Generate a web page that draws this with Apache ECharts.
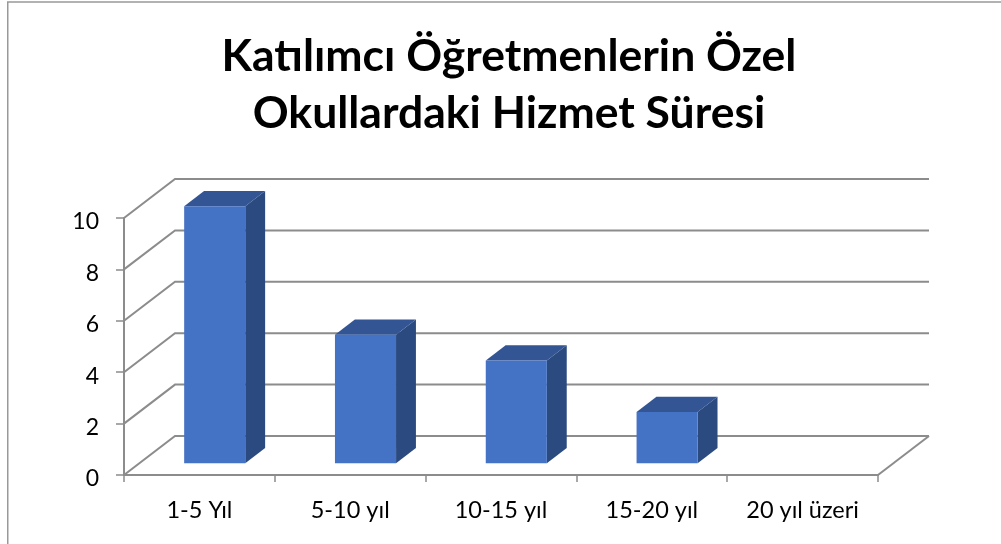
<!DOCTYPE html>
<html lang="en">

<head>
    <meta charset="UTF-8">
    <title>Katılımcı Öğretmenlerin Özel Okullardaki Hizmet Süresi</title>
    <style>
        html, body { margin: 0; padding: 0; background: #fff; }
    </style>
</head>

<body>
    <div id="main" style="width: 1001px;height:544px"></div>

    <script src="https://cdn.jsdelivr.net/npm/echarts@6/dist/echarts.min.js"></script>
    <script>
        const titleLines = ['Katılımcı Öğretmenlerin Özel', 'Okullardaki Hizmet Süresi'];
        const categories = ['1-5 Yıl', '5-10 yıl', '10-15 yıl', '15-20 yıl', '20 yıl üzeri'];
        const values = [10, 5, 4, 2, 0];
        const gridValues = [0, 2, 4, 6, 8, 10];

        const FONT = 'Lato, "Open Sans", sans-serif';
        const LINE = '#8c8c8c';

        // fake 3d: depth of the floor, and where the bar sits inside it
        const DEPTH_X = 51;
        const DEPTH_Y = 39;
        const BAR_NEAR = 0.3;
        const BAR_FAR = 0.69;
        const BAR_WIDTH = 0.405;

        function renderWall(params, api) {
            const p = api.coord([0, api.value(0)]);
            const size = api.size([1, 0]);
            const left = p[0] - size[0] / 2;
            const right = left + size[0] * categories.length;
            return {
                type: 'polyline',
                shape: {
                    points: [
                        [left, p[1]],
                        [left + DEPTH_X, p[1] - DEPTH_Y],
                        [right + DEPTH_X, p[1] - DEPTH_Y]
                    ]
                },
                style: { fill: 'none', stroke: LINE, lineWidth: 2 }
            };
        }

        function renderFloorEdge(params, api) {
            const p = api.coord([categories.length - 1, 0]);
            const size = api.size([1, 0]);
            const right = p[0] + size[0] / 2;
            return {
                type: 'line',
                shape: { x1: right, y1: p[1], x2: right + DEPTH_X, y2: p[1] - DEPTH_Y },
                style: { stroke: LINE, lineWidth: 2 }
            };
        }

        function renderBar(params, api) {
            const value = api.value(1);
            if (!value) return;
            const base = api.coord([api.value(0), 0]);
            const top = api.coord([api.value(0), value]);
            const w = api.size([1, 0])[0] * BAR_WIDTH;
            const x0 = base[0] - w / 2 + DEPTH_X * BAR_NEAR;
            const x1 = x0 + w;
            const y0 = base[1] - DEPTH_Y * BAR_NEAR;
            const y1 = top[1] - DEPTH_Y * BAR_NEAR;
            const dx = DEPTH_X * (BAR_FAR - BAR_NEAR);
            const dy = DEPTH_Y * (BAR_FAR - BAR_NEAR);
            return {
                type: 'group',
                children: [
                    {
                        type: 'polygon',
                        shape: { points: [[x1, y1], [x1 + dx, y1 - dy], [x1 + dx, y0 - dy], [x1, y0]] },
                        style: { fill: '#2b4a80' }
                    },
                    {
                        type: 'polygon',
                        shape: { points: [[x0, y1], [x0 + dx, y1 - dy], [x1 + dx, y1 - dy], [x1, y1]] },
                        style: { fill: '#335593' }
                    },
                    {
                        type: 'rect',
                        shape: { x: x0, y: y1, width: w, height: y0 - y1 },
                        style: { fill: '#4472c4' }
                    }
                ]
            };
        }

        const chart = echarts.init(document.getElementById('main'), null, { renderer: 'canvas' });

        chart.setOption({
            animation: false,
            backgroundColor: '#fff',
            title: {
                text: titleLines.join('\n'),
                left: 504,
                top: 23,
                textAlign: 'center',
                textStyle: {
                    fontFamily: FONT,
                    fontSize: 44.5,
                    fontWeight: 'bold',
                    color: '#000',
                    lineHeight: 57
                }
            },
            graphic: [{
                type: 'rect',
                shape: { x: 7.75, y: 2, width: 1200, height: 800 },
                style: { fill: 'none', stroke: '#999', lineWidth: 1.5 }
            }],
            grid: { left: 124, right: 123, top: 218, bottom: 69 },
            xAxis: {
                type: 'category',
                data: categories,
                axisLine: { lineStyle: { color: LINE, width: 2 } },
                axisTick: { show: true, length: 7, alignWithLabel: false, lineStyle: { color: LINE, width: 1.5 } },
                axisLabel: { fontFamily: FONT, fontSize: 23.5, color: '#000', margin: 23 }
            },
            yAxis: {
                type: 'value',
                min: 0,
                max: 10,
                interval: 2,
                splitLine: { show: false },
                axisLine: { show: true, lineStyle: { color: LINE, width: 2 } },
                axisTick: { show: true, length: 8, lineStyle: { color: LINE, width: 1.5 } },
                axisLabel: {
                    fontFamily: FONT,
                    fontSize: 23,
                    color: '#000',
                    margin: 25,
                    formatter: '{a|{value}}',
                    rich: { a: { fontFamily: FONT, fontSize: 23, color: '#000', padding: [8, 0, 0, 0] } }
                }
            },
            series: [
                {
                    type: 'custom',
                    renderItem: renderWall,
                    clip: false,
                    silent: true,
                    encode: { y: 0 },
                    data: gridValues.map(v => [v]),
                    z: 1
                },
                {
                    type: 'custom',
                    renderItem: renderFloorEdge,
                    clip: false,
                    silent: true,
                    data: [[0]],
                    z: 1
                },
                {
                    type: 'custom',
                    renderItem: renderBar,
                    clip: false,
                    encode: { x: 0, y: 1 },
                    data: values.map((v, i) => [i, v]),
                    z: 2
                }
            ]
        });
    </script>
</body>

</html>
